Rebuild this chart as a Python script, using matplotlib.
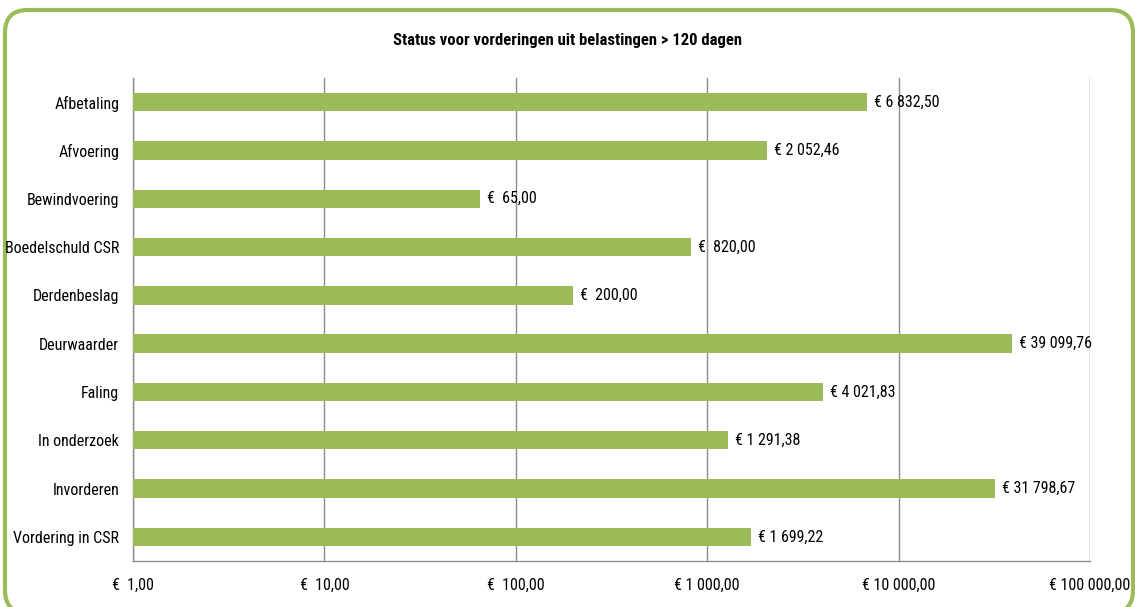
import matplotlib.pyplot as plt
from matplotlib.patches import FancyBboxPatch
from matplotlib.ticker import FixedLocator, FixedFormatter

plt.rcParams['font.family'] = ['Roboto Condensed', 'DejaVu Sans']

categories = ['Afbetaling', 'Afvoering', 'Bewindvoering', 'Boedelschuld CSR', 'Derdenbeslag',
              'Deurwaarder', 'Faling', 'In onderzoek', 'Invorderen', 'Vordering in CSR']
values = [6832.50, 2052.46, 65.00, 820.00, 200.00, 39099.76, 4021.83, 1291.38, 31798.67, 1699.22]
value_labels = ['€ 6 832,50', '€ 2 052,46', '€  65,00', '€  820,00', '€  200,00',
                '€ 39 099,76', '€ 4 021,83', '€ 1 291,38', '€ 31 798,67', '€ 1 699,22']
xticks = [1, 10, 100, 1000, 10000, 100000]
xtick_labels = ['€  1,00', '€  10,00', '€  100,00', '€ 1 000,00', '€ 10 000,00', '€ 100 000,00']

green = '#9BBB59'

fig = plt.figure(figsize=(11.35, 6.07), dpi=100)
# rounded green border around the whole chart
frame = FancyBboxPatch((5 / 1135, -6 / 607), 1128 / 1135, 603 / 607,
                       boxstyle='round,pad=0,rounding_size=0.02', transform=fig.transFigure,
                       facecolor='none', edgecolor=green, linewidth=3,
                       mutation_aspect=1135 / 607, zorder=-1)
fig.patches.append(frame)

ax = fig.add_axes([133 / 1135, 1 - 561 / 607, (1090 - 133) / 1135, (561 - 78) / 607])
ax.set_facecolor('none')
y = list(range(len(categories)))
ax.barh(y, values, height=0.38, color=green, zorder=3)
ax.set_xscale('log')
ax.set_xlim(1, 100000)
ax.set_ylim(len(categories) - 0.5, -0.5)
ax.set_yticks(y)
ax.set_yticklabels(categories, fontsize=11.5)
ax.xaxis.set_major_locator(FixedLocator(xticks))
ax.xaxis.set_major_formatter(FixedFormatter(xtick_labels))
ax.xaxis.set_minor_locator(FixedLocator([]))
ax.tick_params(axis='x', labelsize=11.5, length=0, pad=12)
ax.tick_params(axis='y', length=0, pad=10)
ax.grid(axis='x', color='#8c8c8c', linewidth=1, zorder=0)
for s in ['top', 'right']:
    ax.spines[s].set_visible(False)
for s in ['left', 'bottom']:
    ax.spines[s].set_color('#8c8c8c')
    ax.spines[s].set_linewidth(1)

for yi, v, lab in zip(y, values, value_labels):
    ax.annotate(lab, (v, yi), xytext=(5, 0), textcoords='offset points',
                va='center', ha='left', fontsize=11.5)

fig.text(0.5, 1 - 40 / 607, 'Status voor vorderingen uit belastingen > 120 dagen',
         ha='center', va='center', fontsize=12, fontweight='bold')

fig.savefig('out.png', dpi=100)
